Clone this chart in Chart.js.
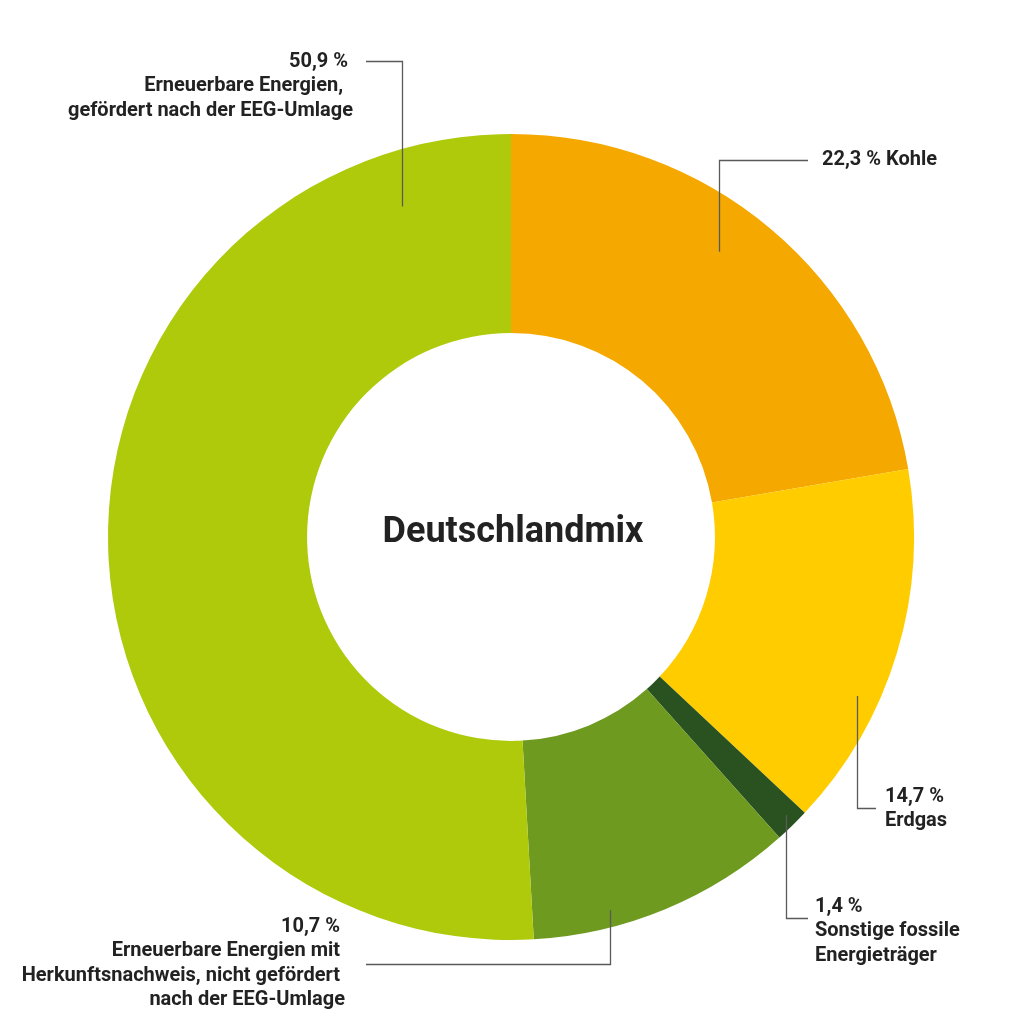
<!DOCTYPE html>
<html><head><meta charset="utf-8">
<script src="https://cdn.jsdelivr.net/npm/chart.js@4"></script>
<style>html,body{margin:0;padding:0;background:#fff}#wrap{width:1024px;height:1024px}</style>
</head><body><div id="wrap"><canvas id="c" width="1024" height="1024"></canvas></div>
<script>
const categories = ["Kohle","Erdgas","Sonstige fossile Energieträger","Erneuerbare Energien mit Herkunftsnachweis, nicht gefördert nach der EEG-Umlage","Erneuerbare Energien, gefördert nach der EEG-Umlage"];
const values = [22.3, 14.7, 1.4, 10.7, 50.9];
const colors = ["#F5A800","#FFCC00","#2A5220","#6E9A20","#AFCA0B"];
const labelLines = [
  ["22,3 % Kohle"],
  ["14,7 %","Erdgas"],
  ["1,4 %","Sonstige fossile","Energieträger"],
  ["10,7 % ","Erneuerbare Energien mit ","Herkunftsnachweis, nicht gefördert ","nach der EEG-Umlage"],
  ["50,9 % ","Erneuerbare Energien,  ","gefördert nach der EEG-Umlage"]
];
const centerTitle = "Deutschlandmix";

// label layout: anchor inside slice (fraction of angle, radius), elbow y, horizontal line end x, text
const layout = [
  {f:0.45, rf:0.876, ey:160, hx:808, tx:822, ty:160, align:"left"},
  {f:0.65, rf:0.945, ey:808, hx:876, tx:885, ty:797, align:"left"},
  {f:0.42, rf:0.97, ey:918, hx:808, tx:815, ty:907, align:"left"},
  {f:0.70, rf:0.958, ey:964, hx:366, tx:345, ty:927, align:"right"},
  {f:0.90, rf:0.864, ey:61, hx:366, tx:353, ty:62, align:"right"}
];

const annot = {
  id:"annot",
  afterDraw(chart){
    const ctx = chart.ctx;
    const meta = chart.getDatasetMeta(0);
    meta.data.forEach((arc,i)=>{
      const p = arc.getProps(["x","y","startAngle","endAngle","outerRadius"],true);
      const L = layout[i];
      const a = p.startAngle + L.f*(p.endAngle-p.startAngle);
      const r = p.outerRadius*L.rf;
      const ax = Math.round(p.x + r*Math.cos(a))+0.5;
      const ay = p.y + r*Math.sin(a);
      ctx.save();
      ctx.strokeStyle = "#5a5a5a";
      ctx.lineWidth = 1.3;
      ctx.beginPath();
      ctx.moveTo(ax, ay);
      ctx.lineTo(ax, L.ey+0.5);
      ctx.lineTo(L.hx, L.ey+0.5);
      ctx.stroke();
      ctx.fillStyle = "#222";
      ctx.font = "bold 20px Roboto";
      ctx.textBaseline = "middle";
      ctx.textAlign = L.align;
      labelLines[i].forEach((t,j)=>{
        ctx.fillText(t, L.tx, L.ty + j*24.3);
      });
      ctx.restore();
    });
    const a0 = meta.data[0];
    ctx.save();
    ctx.fillStyle = "#222";
    ctx.font = "bold 36px Roboto";
    ctx.textAlign = "center";
    ctx.textBaseline = "middle";
    ctx.fillText(centerTitle, a0.x+2, a0.y-4);
    ctx.restore();
  }
};

new Chart(document.getElementById("c"), {
  type:"doughnut",
  data:{labels:categories, datasets:[{data:values, backgroundColor:colors, borderWidth:0, hoverOffset:0}]},
  options:{
    responsive:false, animation:false, devicePixelRatio:1,
    cutout:"50.6%",
    layout:{padding:{top:134,bottom:84,left:108,right:110}},
    plugins:{legend:{display:false}, tooltip:{enabled:false}}
  },
  plugins:[annot]
});
</script></body></html>
